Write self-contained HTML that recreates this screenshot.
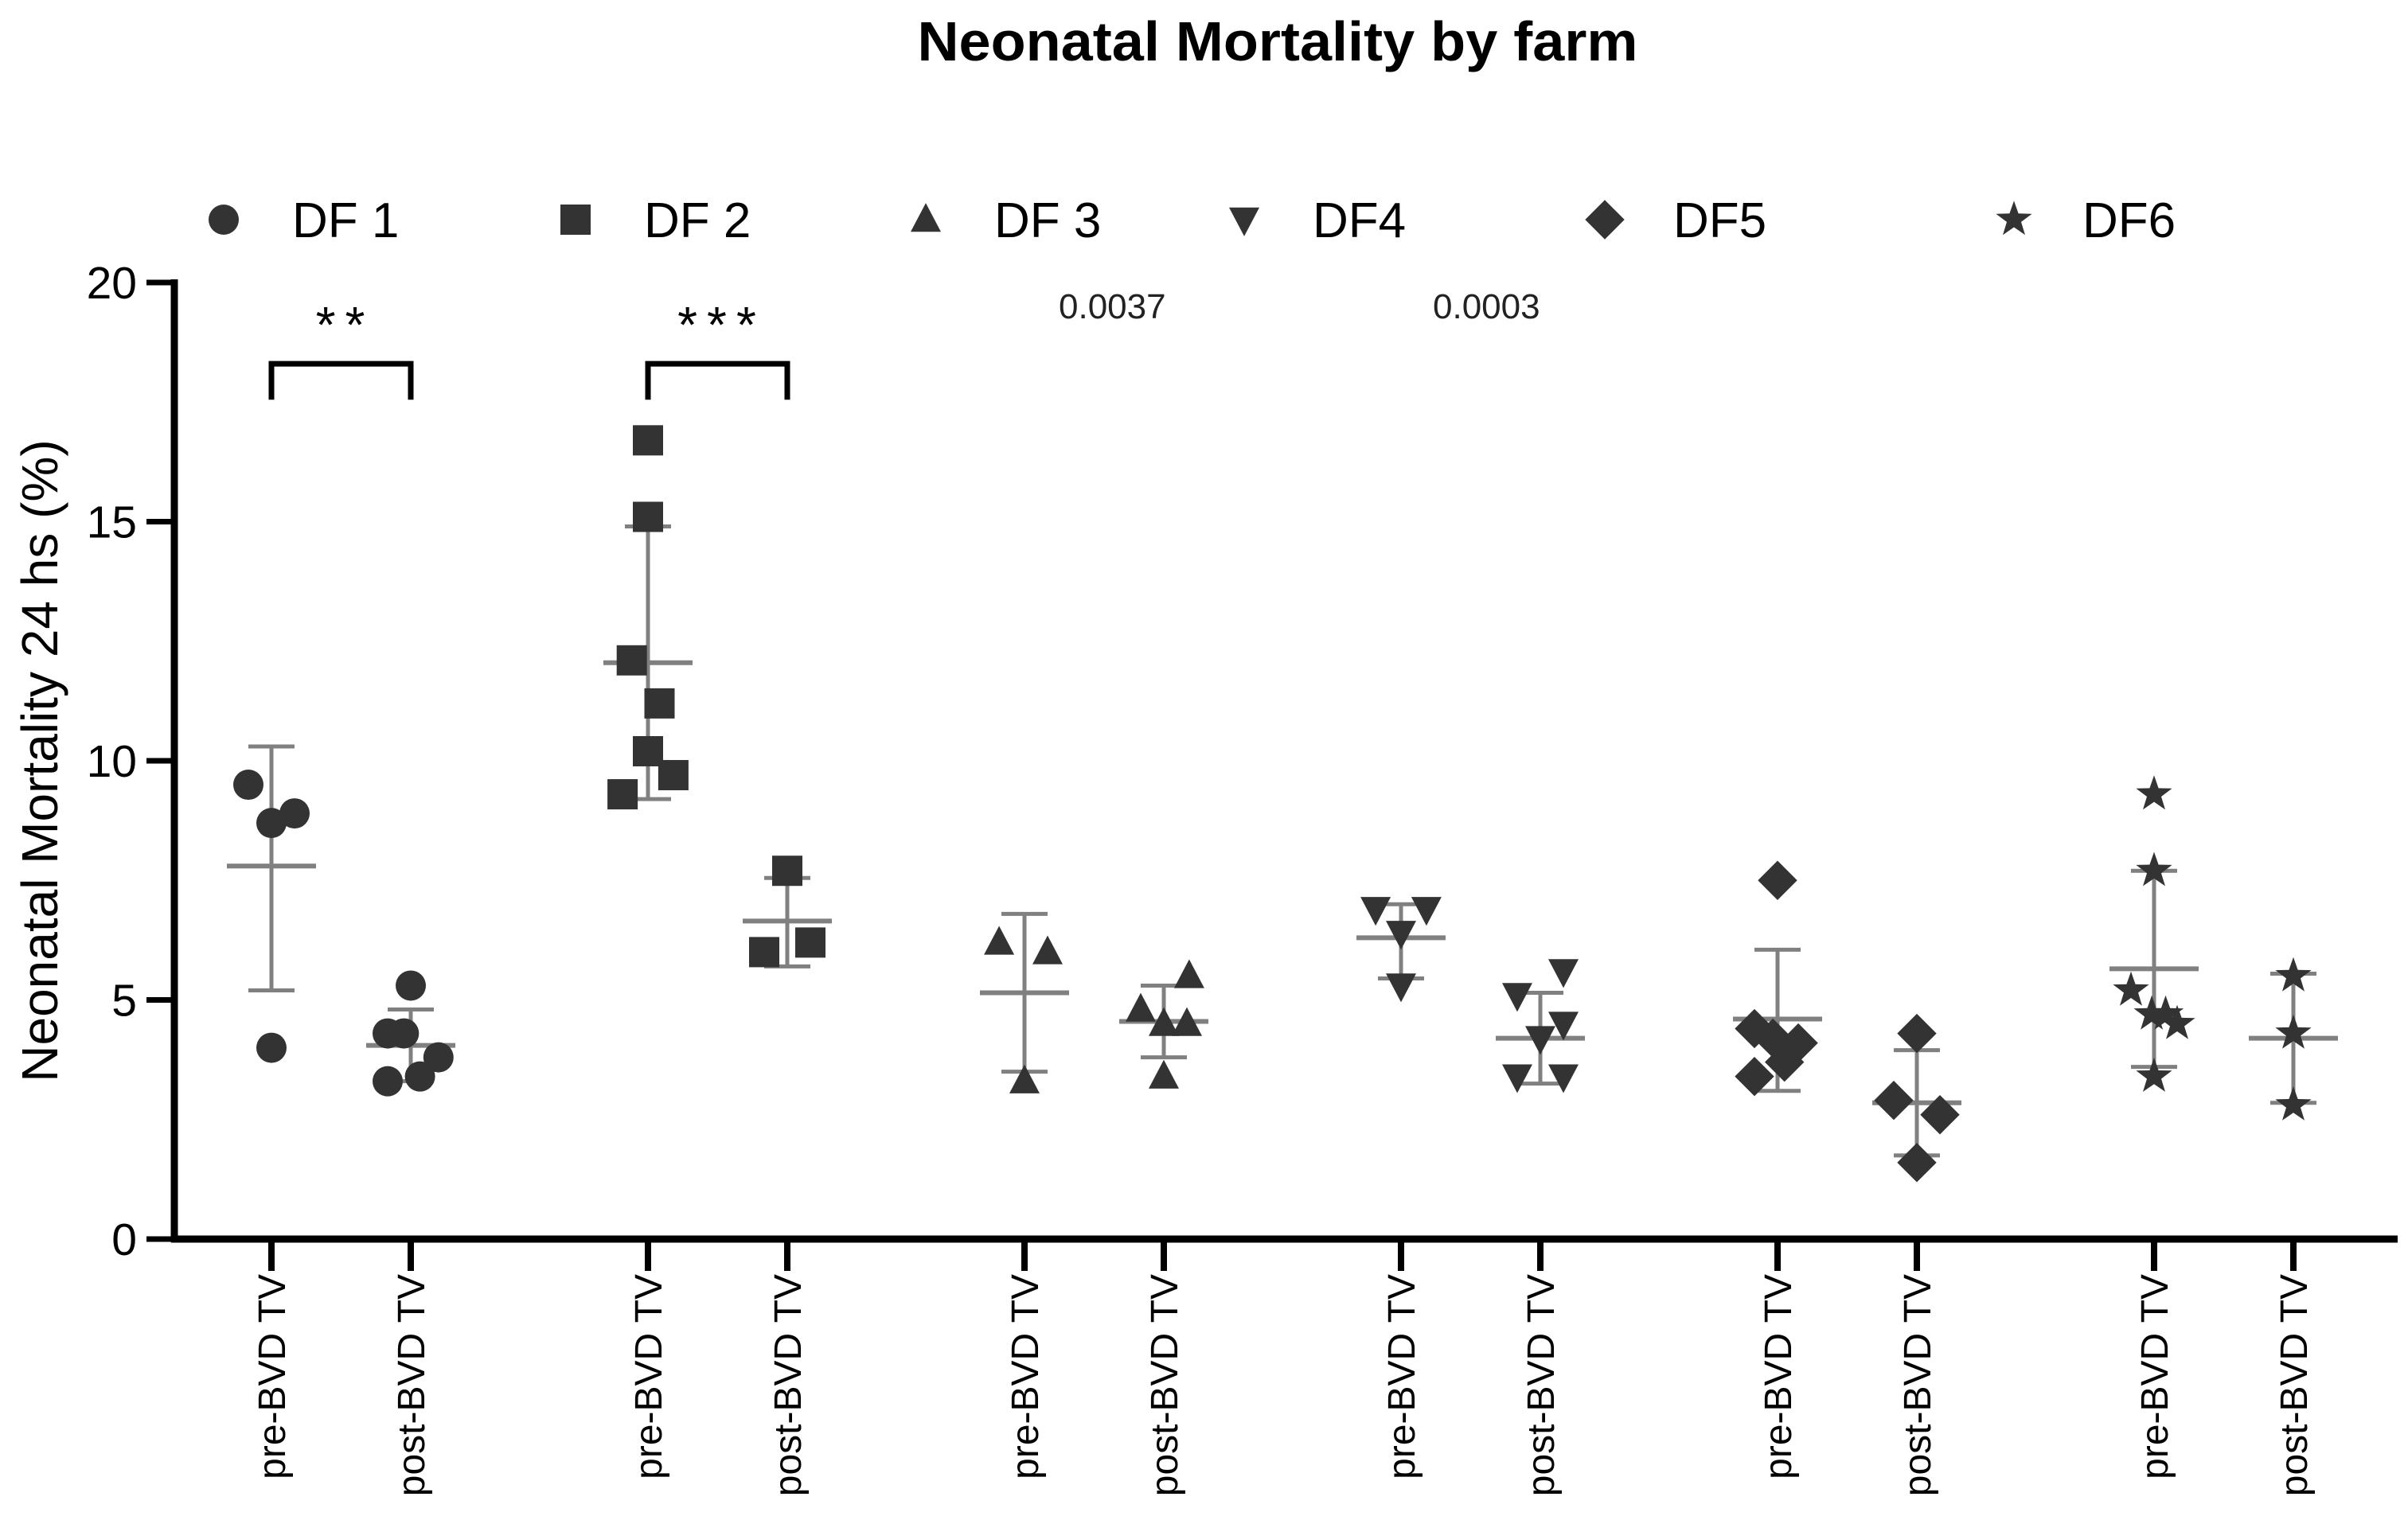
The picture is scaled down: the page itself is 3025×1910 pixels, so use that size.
<!DOCTYPE html>
<html><head><meta charset="utf-8"><style>
body{margin:0;background:#fff}
svg{display:block;font-family:"Liberation Sans",Arial,sans-serif}
</style></head><body>
<svg id="chart" width="3025" height="1910" viewBox="0 0 3025 1910" xmlns="http://www.w3.org/2000/svg">
<text x="1605" y="76" font-size="70" font-weight="bold" text-anchor="middle" textLength="905" lengthAdjust="spacingAndGlyphs">Neonatal Mortality by farm</text>
<g id="legend"></g>
<text x="1330" y="400" font-size="44" fill="#222">0.0037</text>
<text x="1800" y="400" font-size="44" fill="#222">0.0003</text>
<g id="plot"></g>
<g id="axes"></g>
<text transform="translate(72,956) rotate(-90)" font-size="64" text-anchor="middle">Neonatal Mortality 24 hs (%)</text>
</svg>
<script>
const farms = ["DF 1","DF 2","DF 3","DF4","DF5","DF6"];
const periods = ["pre-BVD TV","post-BVD TV"];
const shapes = ["circle","square","triangle","down","diamond","star"];
const groupValues = [
 [[9.5,8.7,8.9,4.0],[5.3,4.3,4.3,3.3,3.4,3.8]],
 [[16.7,15.1,12.1,11.2,10.2,9.3,9.7],[7.7,6.0,6.2]],
 [[6.2,6.0,3.3],[4.8,5.5,4.5,4.5,3.4]],
 [[6.9,6.9,6.4,5.3],[5.1,5.6,4.5,4.2,3.4,3.4]],
 [[7.5,4.4,4.2,4.1,3.7,3.4],[4.3,2.9,2.6,1.6]],
 [[9.3,7.7,5.2,4.7,4.7,4.5,3.4],[5.5,4.3,2.8]]
];
const groupJitter = [
 [[-1,0,1,0],[0,-1,-0.3,-1,0.4,1.2]],
 [[0,0,-0.7,0.5,0,-1.1,1.1],[0,-1,1]],
 [[-1.1,1,0],[-1,1.1,0,1,0]],
 [[-1.1,1.1,0,0],[-1,1,1,0,-1,1]],
 [[0,-1,-0.2,0.9,0.3,-1],[0,-1,1,0]],
 [[0,0,-1,-0.1,0.5,1,0],[0,0,0]]
];
const groupMeans = [[7.8,4.05],[12.05,6.65],[5.15,4.55],[6.3,4.2],[4.6,2.85],[5.65,4.2]];
const groupLow = [[5.2,3.3],[9.2,5.7],[3.5,3.8],[5.45,3.25],[3.1,1.75],[3.6,2.85]];
const groupHigh = [[10.3,4.8],[14.9,7.55],[6.8,5.3],[7.0,5.15],[6.05,3.95],[7.7,5.55]];
const yTicks = [0,5,10,15,20];
const sigLabels = [["**",0],["***",1]];

const NS="http://www.w3.org/2000/svg";
const X0=219, Y0=1557, Y20=355;
const y = v => Y0 - (Y0-Y20)*v/20;
const x = (f,p) => 341 + f*473 + p*175;
const JIT=29, COL="#333";
function el(tag, attrs, parent){const e=document.createElementNS(NS,tag);for(const k in attrs)e.setAttribute(k,attrs[k]);parent.appendChild(e);return e;}
function marker(shape,cx,cy,parent,s){
  s=s||19;let e;
  if(shape==="circle") e=el("circle",{cx,cy,r:s,fill:COL},parent);
  else if(shape==="square") e=el("rect",{x:cx-s,y:cy-s,width:2*s,height:2*s,fill:COL},parent);
  else if(shape==="triangle") e=el("polygon",{points:`${cx},${cy-s*1.1} ${cx+s},${cy+s*0.8} ${cx-s},${cy+s*0.8}`,fill:COL},parent);
  else if(shape==="down") e=el("polygon",{points:`${cx-s},${cy-s*0.8} ${cx+s},${cy-s*0.8} ${cx},${cy+s*1.1}`,fill:COL},parent);
  else if(shape==="diamond") e=el("polygon",{points:`${cx},${cy-s*1.3} ${cx+s*1.3},${cy} ${cx},${cy+s*1.3} ${cx-s*1.3},${cy}`,fill:COL},parent);
  else {let pts=[];for(let i=0;i<10;i++){const r=i%2?s*0.5:s*1.25;const a=-Math.PI/2+i*Math.PI/5;pts.push((cx+r*Math.cos(a)).toFixed(1)+","+(cy+r*Math.sin(a)).toFixed(1));}
    e=el("polygon",{points:pts.join(" "),fill:COL},parent);}
  return e;
}
const plot=document.getElementById("plot"), axes=document.getElementById("axes"), legend=document.getElementById("legend");
const legX=[281,723,1163,1563,2016,2530];
farms.forEach((f,i)=>{
  const g=el("g",{},legend);
  
  
  marker(shapes[i],legX[i],276,g,19);
  const t=el("text",{x:legX[i]+86,y:298,"font-size":62},g);t.textContent=f;
});
groupValues.forEach((per,f)=>per.forEach((vals,p)=>{
  const g=el("g",{},plot);
  
  
  const cx=x(f,p);
  el("line",{x1:cx,x2:cx,y1:y(groupHigh[f][p]),y2:y(groupLow[f][p]),stroke:"#808080","stroke-width":5},g);
  el("line",{x1:cx-29,x2:cx+29,y1:y(groupHigh[f][p]),y2:y(groupHigh[f][p]),stroke:"#808080","stroke-width":5},g);
  el("line",{x1:cx-29,x2:cx+29,y1:y(groupLow[f][p]),y2:y(groupLow[f][p]),stroke:"#808080","stroke-width":5},g);
  el("line",{x1:cx-56,x2:cx+56,y1:y(groupMeans[f][p]),y2:y(groupMeans[f][p]),stroke:"#808080","stroke-width":6},g);
  vals.forEach((v,i)=>{
    const m=marker(shapes[f],cx+groupJitter[f][p][i]*JIT,y(v),g,19);
    
    
  });
}));
sigLabels.forEach(([lab,f])=>{
  const g=el("g",{},plot);
  
  
  const x1=x(f,0),x2=x(f,1),yb=y(18.3),yl=y(17.55);
  el("polyline",{points:`${x1},${yl} ${x1},${yb} ${x2},${yb} ${x2},${yl}`,fill:"none",stroke:"#000","stroke-width":7},g);
  const t=el("text",{x:(x1+x2)/2+5,y:y(18.75),"font-size":64,"text-anchor":"middle","letter-spacing":"12"},g);t.textContent=lab;
});
const ya=el("line",{x1:X0,x2:X0,y1:Y20-4,y2:Y0+4,stroke:"#000","stroke-width":9},axes);

const xa=el("line",{x1:X0-4,x2:3012,y1:Y0,y2:Y0,stroke:"#000","stroke-width":9},axes);

yTicks.forEach(v=>{
  el("line",{x1:184,x2:X0,y1:y(v),y2:y(v),stroke:"#000","stroke-width":7},axes);
  const t=el("text",{x:172,y:y(v)+20,"font-size":57,"text-anchor":"end"},axes);t.textContent=v;
  
});
farms.forEach((f,fi)=>periods.forEach((p,pi)=>{
  const cx=x(fi,pi);
  el("line",{x1:cx,x2:cx,y1:Y0,y2:Y0+40,stroke:"#000","stroke-width":8},axes);
  const t=el("text",{transform:`translate(${cx+17},${Y0+44}) rotate(-90)`,"font-size":48,"text-anchor":"end"},axes);t.textContent=p;
  
}));
</script>
</body></html>
